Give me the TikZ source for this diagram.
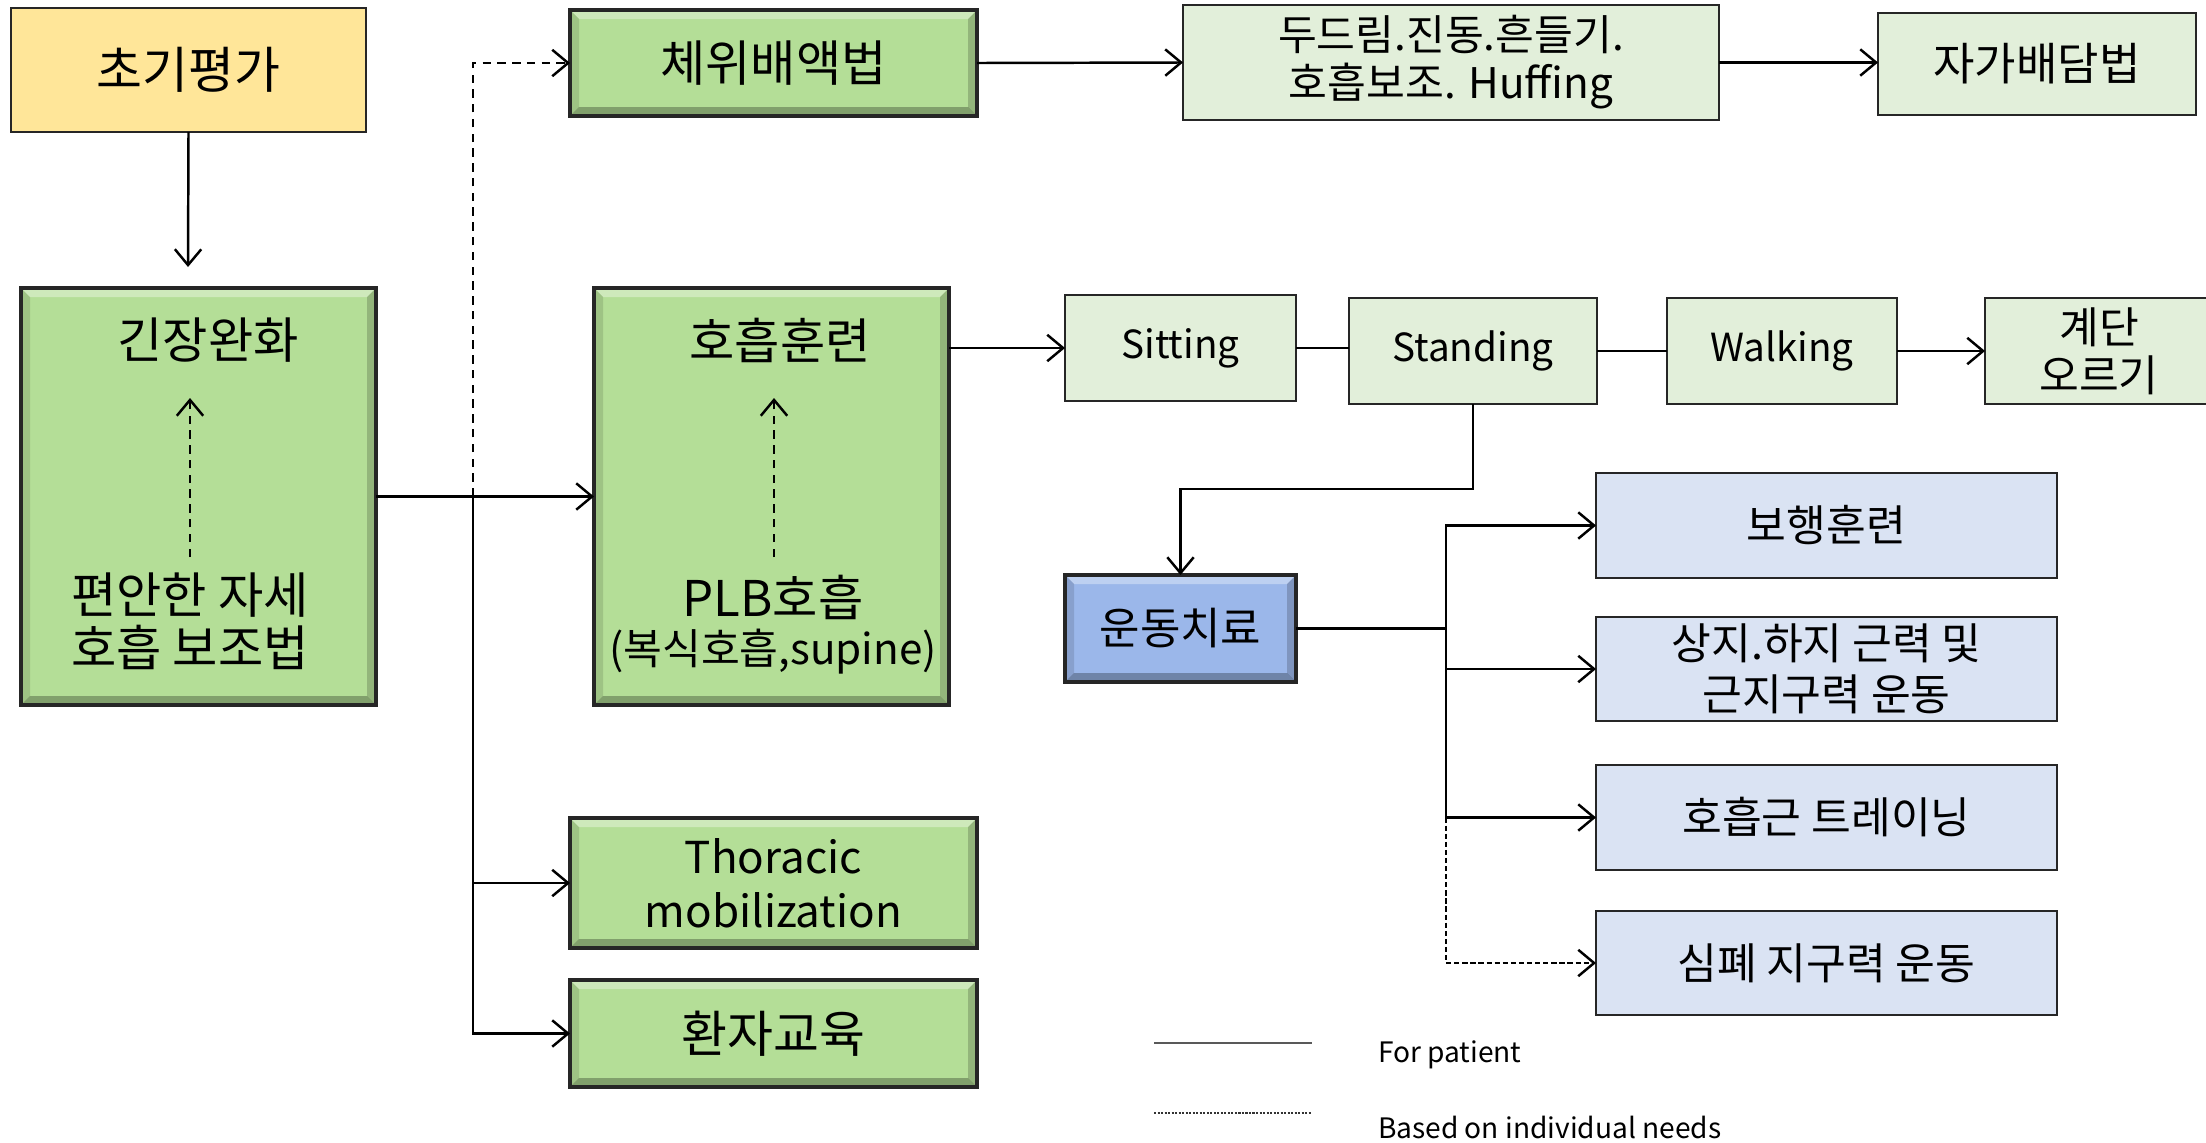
\documentclass[tikz,border=0pt]{standalone}
\usepackage{fontspec}
\setmainfont{Noto Sans CJK KR}
\usetikzlibrary{arrows.meta}
\definecolor{cYellow}{HTML}{FFE699}
\definecolor{cGreen}{HTML}{B4DE97}
\definecolor{cLightGreen}{HTML}{E2EFDA}
\definecolor{cBlue}{HTML}{9BB7EA}
\definecolor{cBlueGray}{HTML}{DAE3F3}
\newcommand\fsz[2]{\fontsize{#1pt}{#2pt}\selectfont}
\newcommand\bx[7]{\node[#6, minimum width={(#4-#2)*0.01cm}, minimum height={(#5-#3)*0.01cm}] (#1) at ({(#2+#4)/2},{(#3+#5)/2}) {#7};}
\tikzset{
  every node/.style={inner sep=0pt, outer sep=0pt, align=center, text=black},
  conn/.style={line width=0.7pt, black},
  arr/.style={conn, -{Straight Barb[length=4.5pt,width=7.5pt,line width=0.7pt]}},
  dsh/.style={dash pattern=on 2.4pt off 1.8pt},
  flatbox/.style={draw=black!85, line width=0.7pt, fill=#1},
  bevelbox/.style={draw=black!85, line width=1pt, fill=#1, path picture={
     \coordinate (bNW) at (path picture bounding box.north west);
     \coordinate (bSE) at (path picture bounding box.south east);
     \coordinate (bNE) at (bNW -| bSE);
     \coordinate (bSW) at (bSE -| bNW);
     \fill[white,opacity=0.35] (bNW) -- (bNE) -- ([shift={(-9,9)}]bNE) -- ([shift={(9,9)}]bNW) -- cycle;
     \fill[black,opacity=0.28] (bSW) -- (bSE) -- ([shift={(-9,-9)}]bSE) -- ([shift={(9,-9)}]bSW) -- cycle;
     \fill[black,opacity=0.12] (bNW) -- (bSW) -- ([shift={(9,-9)}]bSW) -- ([shift={(9,9)}]bNW) -- cycle;
     \fill[black,opacity=0.18] (bNE) -- (bSE) -- ([shift={(-9,-9)}]bSE) -- ([shift={(-9,9)}]bNE) -- cycle;
  }},
}
\begin{document}
\begin{tikzpicture}[x=0.01cm,y=-0.01cm]
\useasboundingbox (0,0) rectangle (2206,1142);
\clip (0,0) rectangle (2206,1142);
% boxes
\bx{A}{11}{8}{366}{132}{flatbox=cYellow, font=\fsz{14.2}{17}}{초기평가}
\bx{B}{570}{10}{977}{116}{bevelbox=cGreen, font=\fsz{14}{17}}{체위배액법}
\bx{C}{1183}{5}{1719}{120}{flatbox=cLightGreen, font=\fsz{12}{13.7}}{두드림.진동.흔들기.\\호흡보조. Huffing}
\bx{D}{1878}{13}{2196}{115}{flatbox=cLightGreen, font=\fsz{12.8}{15}}{자가배담법}
\bx{E}{21}{288}{376}{705}{bevelbox=cGreen}{}
\bx{F}{594}{288}{949}{705}{bevelbox=cGreen}{}
\bx{G}{1065}{295}{1296}{401}{flatbox=cLightGreen, font=\fsz{11}{13.7}}{Sitting}
\bx{H}{1349}{298}{1597}{404}{flatbox=cLightGreen, font=\fsz{11}{13.7}}{Standing}
\bx{I}{1667}{298}{1897}{404}{flatbox=cLightGreen, font=\fsz{11}{13.7}}{Walking}
\bx{J}{1985}{298}{2213}{404}{flatbox=cLightGreen, font=\fsz{12.3}{13.7}}{계단\\오르기}
\bx{K}{1065}{575}{1296}{682}{bevelbox=cBlue, font=\fsz{12.5}{14}}{운동치료}
\bx{L}{1596}{473}{2057}{578}{flatbox=cBlueGray, font=\fsz{12.3}{14.5}}{보행훈련}
\bx{M}{1596}{617}{2057}{721}{flatbox=cBlueGray, font=\fsz{12.3}{14.5}}{상지.하지 근력 및\\근지구력 운동}
\bx{N}{1596}{765}{2057}{870}{flatbox=cBlueGray, font=\fsz{12.3}{14.5}}{호흡근 트레이닝}
\bx{O}{1596}{911}{2057}{1015}{flatbox=cBlueGray, font=\fsz{12.3}{14.5}}{심폐 지구력 운동}
\bx{P}{570}{818}{977}{948}{bevelbox=cGreen, font=\fsz{12.5}{15.4}}{Thoracic\\mobilization}
\bx{Q}{570}{980}{977}{1087}{bevelbox=cGreen, font=\fsz{14.2}{16}}{환자교육}
% texts inside tall boxes
\node[font=\fsz{14}{15}] (E1) at (208,340) {긴장완화};
\node[font=\fsz{14}{15}] (E2) at (190,621) {편안한 자세\\호흡 보조법};
\node[font=\fsz{14}{15}] (F1) at (780,340) {호흡훈련};
\node[font=\fsz{14}{15}] (F2) at (773,597) {PLB호흡};
\node[font=\fsz{12}{14}] (F3) at (773,652) {(복식호흡,supine)};
\coordinate (e1) at (190,557);
\coordinate (e2) at (190,398);
\coordinate (f1) at (774,557);
\coordinate (f2) at (774,398);
\draw[arr, line width=0.5pt, dsh] (e1) -- (e2);
\draw[arr, line width=0.5pt, dsh] (f1) -- (f2);
% connectors
\coordinate (a1) at (188,267);
\draw[arr] (A.south) -- (a1);
\draw[arr] (E.east) -- (F.west);
\coordinate (j1) at (473,496.5);
\draw[arr, dsh] (j1) |- (B.west);
\draw[arr] (j1) |- (P.west);
\draw[arr] (j1) |- (Q.west);
\draw[arr] (B.east) -- (C.west);
\draw[arr] (C.east) -- (C.east -| D.west);
\draw[arr] (F.east |- G.west) -- (G.west);
\draw[conn] (G.east) -- (G.east -| H.west);
\draw[conn] (H.east) -- (I.west);
\draw[arr] (I.east) -- (J.west);
\coordinate (h1) at (1473,489);
\draw[arr] (H.south) -- (h1) -| (K.north);
\coordinate (k1) at (1446,628.5);
\draw[conn] (K.east) -- (k1);
\draw[arr] (k1) |- (L.west);
\draw[arr] (k1) |- (M.west);
\draw[arr] (k1) |- (N.west);
\draw[arr, dash pattern=on 1.5pt off 0.8pt] (N.west -| k1) |- (O.west);
% legend
\coordinate (l1) at (1154,1043);
\coordinate (l2) at (1312,1043);
\coordinate (l3) at (1154,1113);
\coordinate (l4) at (1312,1113);
\draw[line width=0.6pt, black!65] (l1) -- (l2);
\draw[line width=0.5pt, black!80, dash pattern=on 0.6pt off 0.4pt] (l3) -- (l4);
\node[anchor=base west, font=\fsz{8}{10}] (t1) at (1378,1062) {For patient};
\node[anchor=base west, font=\fsz{8}{10}] (t2) at (1378,1138) {Based on individual needs};
\end{tikzpicture}
\end{document}
